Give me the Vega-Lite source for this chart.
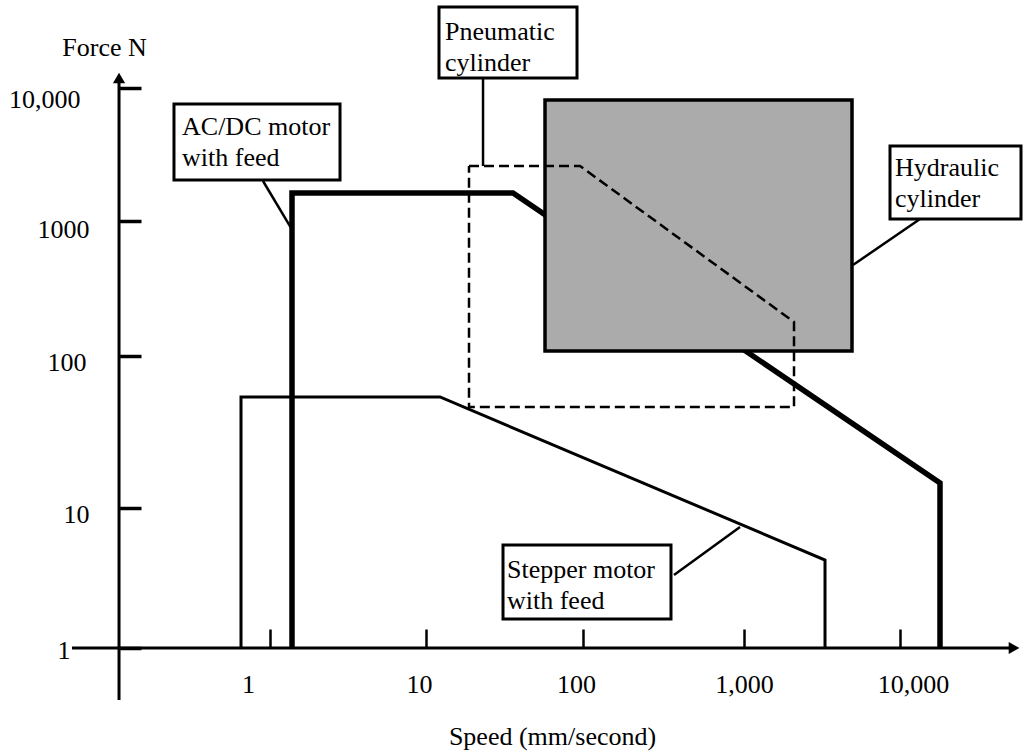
{
  "$schema": "https://vega.github.io/schema/vega-lite/v6.json",
  "width": 900,
  "height": 648,
  "autosize": {"type": "none"},
  "padding": {"left": 119, "top": 0, "right": 5, "bottom": 103},
  "background": "white",
  "config": {
    "view": {"stroke": null},
    "font": "Liberation Serif",
    "axis": {
      "domain": false,
      "grid": false,
      "tickColor": "black",
      "labelColor": "black",
      "titleColor": "black",
      "labelFont": "Liberation Serif",
      "titleFont": "Liberation Serif",
      "labelFontSize": 26,
      "titleFontSize": 26,
      "titleFontWeight": "normal",
      "labelFlush": false,
      "labelOverlap": false
    }
  },
  "datasets": {
    "axislines": [
      {"axis": "Force", "x": 0.1077, "y": 0.4251, "x2": 0.1077, "y2": 11490},
      {"axis": "Speed", "x": 0.05379, "y": 1, "x2": 50720, "y2": 1}
    ],
    "arrows": [
      {"axis": "Force", "x": 0.1077, "y": 11890},
      {"axis": "Speed", "x": 53810, "y": 1}
    ],
    "curves": [
      {"device": "Stepper motor with feed", "i": 1, "speed": 0.6518, "force": 1},
      {"device": "Stepper motor with feed", "i": 2, "speed": 0.6518, "force": 53.75},
      {"device": "Stepper motor with feed", "i": 3, "speed": 12.28, "force": 53.75},
      {"device": "Stepper motor with feed", "i": 4, "speed": 3306, "force": 4.252},
      {"device": "Stepper motor with feed", "i": 5, "speed": 3306, "force": 1},
      {"device": "AC/DC motor with feed", "i": 1, "speed": 1.3836, "force": 1},
      {"device": "AC/DC motor with feed", "i": 2, "speed": 1.3836, "force": 1623},
      {"device": "AC/DC motor with feed", "i": 3, "speed": 35.83, "force": 1623},
      {"device": "AC/DC motor with feed", "i": 4, "speed": 18050, "force": 14.6},
      {"device": "AC/DC motor with feed", "i": 5, "speed": 18050, "force": 1},
      {"device": "Pneumatic cylinder", "i": 1, "speed": 18.79, "force": 2592},
      {"device": "Pneumatic cylinder", "i": 2, "speed": 95.7, "force": 2592},
      {"device": "Pneumatic cylinder", "i": 3, "speed": 2092, "force": 178.6},
      {"device": "Pneumatic cylinder", "i": 4, "speed": 2092, "force": 46.18},
      {"device": "Pneumatic cylinder", "i": 5, "speed": 18.79, "force": 46.18},
      {"device": "Pneumatic cylinder", "i": 6, "speed": 18.79, "force": 2592}
    ],
    "hydraulic": [
      {"device": "Hydraulic cylinder", "speed_min": 57.28, "speed_max": 4924, "force_min": 108.9, "force_max": 8124}
    ],
    "callouts": [
      {"device": "AC/DC motor with feed", "text": "AC/DC motor\nwith feed", "bx1": 0.2424, "bx2": 2.811, "by1": 2034, "by2": 7580, "tx": 0.2729, "ty": 4432, "lx1": 0.9018, "ly1": 1999, "lx2": 1.3634, "ly2": 887.7},
      {"device": "Pneumatic cylinder", "text": "Pneumatic\ncylinder", "bx1": 12.1, "bx2": 91.59, "by1": 11890, "by2": 40640, "tx": 13.21, "ty": 22960, "lx1": 23.08, "ly1": 11890, "lx2": 23.08, "ly2": 2592},
      {"device": "Hydraulic cylinder", "text": "Hydraulic\ncylinder", "bx1": 8628, "bx2": 59650, "by1": 1035, "by2": 3664, "tx": 9288, "ty": 2179, "lx1": 13440, "ly1": 1035, "lx2": 4996, "ly2": 472.2},
      {"device": "Stepper motor with feed", "text": "Stepper motor\nwith feed", "bx1": 30.94, "bx2": 352.0, "by1": 1.611, "by2": 5.442, "tx": 32.8, "ty": 3.162, "lx1": 367.4, "ly1": 3.322, "lx2": 944.5, "ly2": 7.315}
    ]
  },
  "layer": [
    {
      "data": {"name": "axislines"},
      "mark": {"type": "rule", "strokeWidth": 3, "color": "black"},
      "encoding": {
        "x": {
          "field": "x", "type": "quantitative",
          "scale": {"type": "log", "domain": [1, 10, 100, 1000, 10000], "range": [151, 307, 464, 625, 781], "nice": false},
          "title": "Speed (mm/second)",
          "axis": {
            "values": [1, 10, 100, 1000, 10000],
            "format": ",d",
            "tickSize": -19,
            "tickWidth": 2.5,
            "labelPadding": 63,
            "labelBaseline": "alphabetic",
            "labelAlign": "center",
            "labelOffset": {"condition": [{"test": "datum.value == 1", "value": -22}, {"test": "datum.value == 10 || datum.value == 100", "value": -7}, {"test": "datum.value == 10000", "value": 13}], "value": 0},
            "titleX": 433,
            "titleY": 96,
            "titleAlign": "center",
            "titleBaseline": "alphabetic"
          }
        },
        "x2": {"field": "x2"},
        "y": {
          "field": "y", "type": "quantitative",
          "scale": {"type": "log", "domain": [1, 10, 100, 1000, 10000], "range": [648, 508, 356, 221, 88], "nice": false},
          "title": "Force N",
          "axis": {
            "values": [1, 10, 100, 1000, 10000],
            "format": "d",
            "labelExpr": "datum.value == 10000 ? '10,000' : datum.label",
            "tickSize": -22,
            "tickWidth": 3.5,
            "labelBaseline": "alphabetic",
            "labelAlign": "right",
            "labelPadding": {"condition": [{"test": "datum.value == 10000", "value": 61}, {"test": "datum.value == 100", "value": 55}, {"test": "datum.value == 1", "value": 71}], "value": 52},
            "labelOffset": {"condition": [{"test": "datum.value == 10000", "value": 19}, {"test": "datum.value == 1000", "value": 16}, {"test": "datum.value == 1", "value": 10}], "value": 14},
            "titleAngle": 0,
            "titleX": -15,
            "titleY": 47,
            "titleAlign": "center",
            "titleBaseline": "middle"
          }
        },
        "y2": {"field": "y2"}
      }
    },
    {
      "data": {"name": "arrows"},
      "mark": {"type": "point", "filled": true, "size": 150, "color": "black", "opacity": 1},
      "encoding": {
        "x": {"field": "x", "type": "quantitative"},
        "y": {"field": "y", "type": "quantitative"},
        "shape": {"field": "axis", "type": "nominal", "scale": {"domain": ["Force", "Speed"], "range": ["triangle-up", "triangle-right"]}, "legend": null}
      }
    },
    {
      "data": {"name": "curves"},
      "transform": [{"filter": "datum.device == 'Stepper motor with feed'"}],
      "mark": {"type": "line", "strokeWidth": 3, "color": "black"},
      "encoding": {
        "x": {"field": "speed", "type": "quantitative"},
        "y": {"field": "force", "type": "quantitative"},
        "order": {"field": "i", "type": "quantitative"}
      }
    },
    {
      "data": {"name": "curves"},
      "transform": [{"filter": "datum.device == 'AC/DC motor with feed'"}],
      "mark": {"type": "line", "strokeWidth": 5.5, "color": "black"},
      "encoding": {
        "x": {"field": "speed", "type": "quantitative"},
        "y": {"field": "force", "type": "quantitative"},
        "order": {"field": "i", "type": "quantitative"}
      }
    },
    {
      "data": {"name": "hydraulic"},
      "mark": {"type": "rect", "fill": "#ababab", "stroke": "black", "strokeWidth": 3.5},
      "encoding": {
        "x": {"field": "speed_min", "type": "quantitative"},
        "x2": {"field": "speed_max"},
        "y": {"field": "force_min", "type": "quantitative"},
        "y2": {"field": "force_max"}
      }
    },
    {
      "data": {"name": "curves"},
      "transform": [{"filter": "datum.device == 'Pneumatic cylinder'"}],
      "mark": {"type": "line", "strokeWidth": 2.5, "color": "black", "strokeDash": [10, 5]},
      "encoding": {
        "x": {"field": "speed", "type": "quantitative"},
        "y": {"field": "force", "type": "quantitative"},
        "order": {"field": "i", "type": "quantitative"}
      }
    },
    {
      "data": {"name": "callouts"},
      "mark": {"type": "rule", "strokeWidth": 2.5, "color": "black"},
      "encoding": {
        "x": {"field": "lx1", "type": "quantitative"},
        "x2": {"field": "lx2"},
        "y": {"field": "ly1", "type": "quantitative"},
        "y2": {"field": "ly2"}
      }
    },
    {
      "data": {"name": "callouts"},
      "mark": {"type": "rect", "fill": "white", "stroke": "black", "strokeWidth": 3},
      "encoding": {
        "x": {"field": "bx1", "type": "quantitative"},
        "x2": {"field": "bx2"},
        "y": {"field": "by1", "type": "quantitative"},
        "y2": {"field": "by2"}
      }
    },
    {
      "data": {"name": "callouts"},
      "mark": {"type": "text", "align": "left", "baseline": "alphabetic", "lineBreak": "\n", "lineHeight": 31, "fontSize": 26, "font": "Liberation Serif", "color": "black"},
      "encoding": {
        "x": {"field": "tx", "type": "quantitative"},
        "y": {"field": "ty", "type": "quantitative"},
        "text": {"field": "text"}
      }
    }
  ]
}
